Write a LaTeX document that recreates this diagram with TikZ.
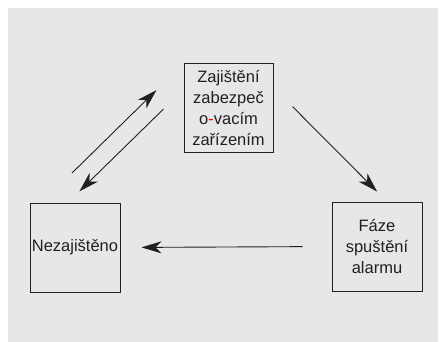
\documentclass[tikz,border=0pt]{standalone}
\usepackage{fontspec}
\setmainfont{Liberation Sans}
\usetikzlibrary{arrows.meta}
\definecolor{panel}{HTML}{E6E7E8}
\definecolor{ink}{HTML}{231F20}
\tikzset{state/.style={draw=ink,line width=1pt,minimum width=89pt,minimum height=89pt,
    inner sep=0pt,align=center,text=ink,font=\fontsize{16.5}{21}\selectfont},
  flow/.style={draw=ink,line width=0.9pt,-{Stealth[length=20pt,width=12pt,inset=6pt]}}}
\begin{document}
\begin{tikzpicture}[x=1pt,y=-1pt]
\useasboundingbox (0,0) rectangle (439,342);
\fill[panel] (8,8) rectangle (438,342);
% states
\node[state] (secured) at (228.5,108.5) {Zaji\v{s}t\v{e}n\'{\i}\\zabezpe\v{c}\\o\textcolor{red}{-}vac\'{\i}m\\za\v{r}\'{\i}zen\'{\i}m};
\node[state,minimum width=90pt] (unsecured) at (75,247.5) {Nezaji\v{s}t\v{e}no};
\node[state,minimum width=90pt] (alarm) at (377,246.5) {F\'aze\\spu\v{s}t\v{e}n\'{\i}\\alarmu};
% transitions
\draw[flow,shorten <=27pt,shorten >=14pt] ([yshift=21pt]secured.east) -- ([xshift=10pt]alarm.north);
\draw[flow,shorten <=29pt,shorten >=21pt] (alarm.west) -- (unsecured.east);
\draw[flow,shorten <=42pt,shorten >=38pt] ([xshift=-33pt]unsecured.north) -- (secured.north west);
\draw[flow,shorten <=28pt,shorten >=16pt] ([yshift=19pt]secured.west) -- ([xshift=-7pt]unsecured.north);
\end{tikzpicture}
\end{document}
